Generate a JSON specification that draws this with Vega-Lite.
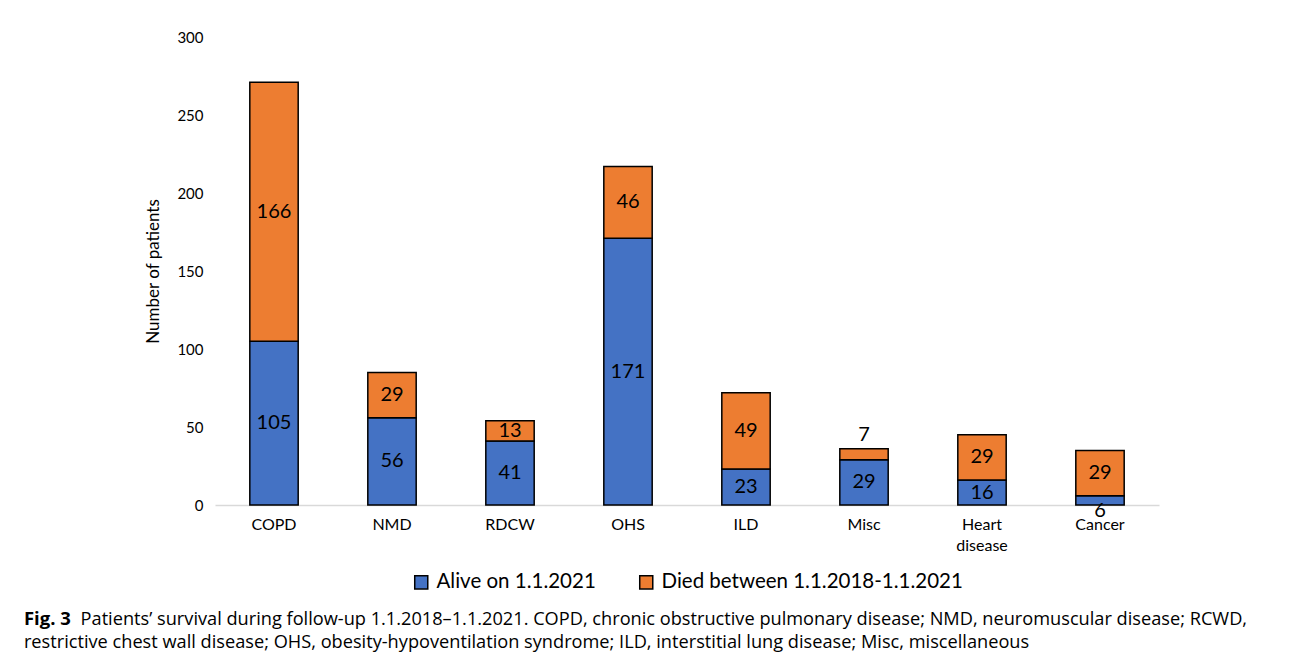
{
  "$schema": "https://vega.github.io/schema/vega-lite/v6.json",
  "width": 944,
  "height": 468,
  "autosize": "none",
  "padding": {"left": 215, "top": 37, "right": 136, "bottom": 156},
  "background": "white",
  "config": {
    "view": {"stroke": null},
    "font": "Lato",
    "legend": {"layout": {"bottom": {"anchor": "middle"}}}
  },
  "title": {
    "text": "Fig. 3",
    "subtitle": [
      "\u200b\u00a0\u00a0\u00a0\u00a0\u00a0\u00a0\u00a0\u00a0\u00a0\u00a0\u00a0\u00a0Patients’ survival during follow-up 1.1.2018–1.1.2021. COPD, chronic obstructive pulmonary disease; NMD, neuromuscular disease; RCWD,",
      "restrictive chest wall disease; OHS, obesity-hypoventilation syndrome; ILD, interstitial lung disease; Misc, miscellaneous"
    ],
    "orient": "bottom",
    "anchor": "start",
    "frame": "bounds",
    "font": "Open Sans",
    "fontSize": 18.5,
    "fontWeight": "bold",
    "color": "black",
    "subtitleFont": "Open Sans",
    "subtitleFontSize": 18.2,
    "subtitleColor": "black",
    "subtitlePadding": -18,
    "subtitleLineHeight": 23,
    "offset": 17,
    "dx": -121
  },
  "data": {
    "values": [
      {"cat": "COPD", "status": "Alive on 1.1.2021", "n": 105},
      {"cat": "COPD", "status": "Died between 1.1.2018-1.1.2021", "n": 166},
      {"cat": "NMD", "status": "Alive on 1.1.2021", "n": 56},
      {"cat": "NMD", "status": "Died between 1.1.2018-1.1.2021", "n": 29},
      {"cat": "RDCW", "status": "Alive on 1.1.2021", "n": 41},
      {"cat": "RDCW", "status": "Died between 1.1.2018-1.1.2021", "n": 13},
      {"cat": "OHS", "status": "Alive on 1.1.2021", "n": 171},
      {"cat": "OHS", "status": "Died between 1.1.2018-1.1.2021", "n": 46},
      {"cat": "ILD", "status": "Alive on 1.1.2021", "n": 23},
      {"cat": "ILD", "status": "Died between 1.1.2018-1.1.2021", "n": 49},
      {"cat": "Misc", "status": "Alive on 1.1.2021", "n": 29},
      {"cat": "Misc", "status": "Died between 1.1.2018-1.1.2021", "n": 7},
      {"cat": "Heart disease", "status": "Alive on 1.1.2021", "n": 16},
      {"cat": "Heart disease", "status": "Died between 1.1.2018-1.1.2021", "n": 29},
      {"cat": "Cancer", "status": "Alive on 1.1.2021", "n": 6},
      {"cat": "Cancer", "status": "Died between 1.1.2018-1.1.2021", "n": 29}
    ]
  },
  "transform": [
    {"stack": "n", "groupby": ["cat"], "sort": [{"field": "status", "order": "ascending"}], "as": ["y0", "y1"]},
    {"calculate": "(datum.y0 + datum.y1) / 2", "as": "ymid"}
  ],
  "encoding": {
    "x": {
      "field": "cat",
      "type": "nominal",
      "sort": ["COPD", "NMD", "RDCW", "OHS", "ILD", "Misc", "Heart disease", "Cancer"],
      "scale": {"paddingInner": 0.59, "paddingOuter": 0.295},
      "axis": {
        "title": null,
        "labelAngle": 0,
        "ticks": false,
        "domainColor": "#d9d9d9",
        "domainWidth": 1.5,
        "labelFontSize": 16,
        "labelColor": "black",
        "labelPadding": 11,
        "labelLineHeight": 21,
        "labelExpr": "datum.label == 'Heart disease' ? ['Heart', 'disease'] : datum.label"
      }
    }
  },
  "layer": [
    {
      "mark": {"type": "bar", "stroke": "black", "strokeWidth": 1.5, "opacity": 1},
      "encoding": {
        "y": {
          "field": "y0",
          "type": "quantitative",
          "scale": {"domain": [0, 300]},
          "axis": {
            "title": "Number of patients",
            "values": [0, 50, 100, 150, 200, 250, 300],
            "grid": false,
            "domain": false,
            "ticks": false,
            "labelFontSize": 15,
            "labelColor": "black",
            "labelPadding": 12,
            "titleFontSize": 17,
            "titleFontWeight": "normal",
            "titleColor": "black",
            "titlePadding": 14
          }
        },
        "y2": {"field": "y1"},
        "color": {
          "field": "status",
          "type": "nominal",
          "scale": {"domain": ["Alive on 1.1.2021", "Died between 1.1.2018-1.1.2021"], "range": ["#4472C4", "#ED7D31"]},
          "legend": {
            "orient": "bottom",
            "direction": "horizontal",
            "title": null,
            "symbolType": "square",
            "symbolSize": 170,
            "symbolStrokeColor": "black",
            "symbolStrokeWidth": 1.5,
            "symbolOpacity": 1,
            "labelFontSize": 20.5,
            "labelColor": "black",
            "labelLimit": 0,
            "labelOffset": 5,
            "columnPadding": 40,
            "offset": 19
          }
        }
      }
    },
    {
      "transform": [{"filter": "datum.n >= 10"}],
      "mark": {"type": "text", "fontSize": 20, "color": "black", "baseline": "middle"},
      "encoding": {
        "y": {"field": "ymid", "type": "quantitative"},
        "text": {"field": "n", "type": "quantitative"}
      }
    },
    {
      "transform": [{"filter": "datum.n < 10 && datum.status == 'Died between 1.1.2018-1.1.2021'"}],
      "mark": {"type": "text", "fontSize": 20, "color": "black", "baseline": "bottom", "dy": -4},
      "encoding": {
        "y": {"field": "y1", "type": "quantitative"},
        "text": {"field": "n", "type": "quantitative"}
      }
    },
    {
      "transform": [{"filter": "datum.n < 10 && datum.status == 'Alive on 1.1.2021'"}],
      "mark": {"type": "text", "fontSize": 20, "color": "black", "baseline": "middle", "dy": 11},
      "encoding": {
        "y": {"field": "ymid", "type": "quantitative"},
        "text": {"field": "n", "type": "quantitative"}
      }
    }
  ]
}
